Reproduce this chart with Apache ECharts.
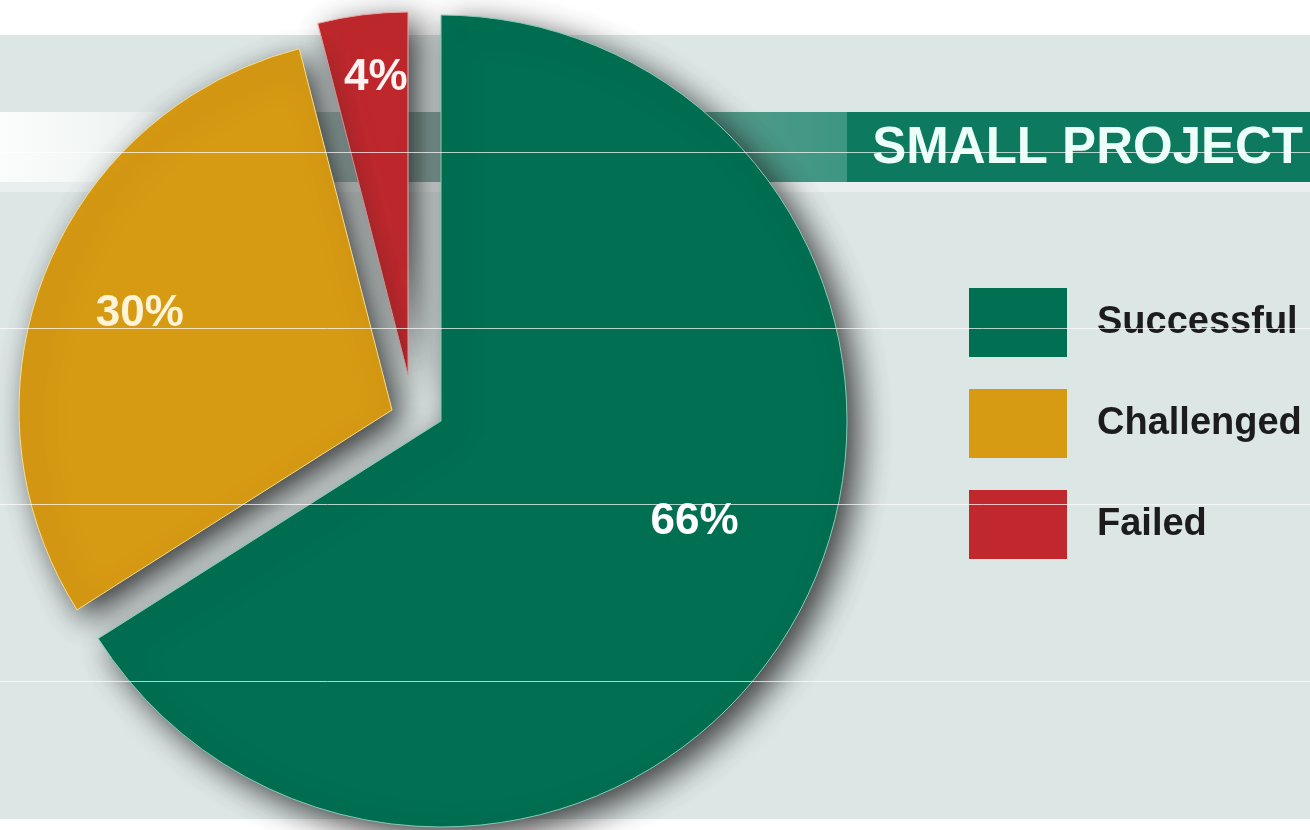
<!DOCTYPE html>
<html>
<head>
<meta charset="utf-8">
<title>Small Project</title>
<script src="https://cdn.jsdelivr.net/npm/echarts@6/dist/echarts.min.js"></script>
<style>
  html, body { margin: 0; padding: 0; background: #ffffff; }
  #chart { width: 1310px; height: 830px; }
</style>
</head>
<body>
<div id="chart"></div>
<script>
// Project outcome shares (percent)
const categories = ['Successful', 'Challenged', 'Failed'];
const shares = [66, 30, 4];
const sliceColors = ['#016f52', '#d79a13', '#c0282d'];
const edgeColors = ['#86cdb9', '#f7dd8e', '#f0a6a3'];
const labelColors = ['#ffffff', '#fff4d8', '#fff2f0'];
const bannerTitle = 'SMALL PROJECT';

// Each slice is drawn by its own pie series so the two smaller slices can be
// pulled out and shrunk independently of the large one.
const sliceLayout = [
  { center: [441, 421], radius: 406, labelShift: [73, 2] },
  { center: [392, 410], radius: 373, labelShift: [-76, -26] },
  { center: [408, 375], radius: 363, labelShift: [-9, -114] }
];

const labelFont = { fontFamily: 'Liberation Sans, Arial, sans-serif', fontWeight: 'bold', fontSize: 44 };

function sliceSeries(k) {
  const lay = sliceLayout[k];
  return {
    type: 'pie',
    center: lay.center,
    radius: lay.radius,
    startAngle: 90,
    clockwise: true,
    silent: true,
    avoidLabelOverlap: false,
    labelLine: { show: false },
    labelLayout: { dx: lay.labelShift[0], dy: lay.labelShift[1] },
    emphasis: { disabled: true },
    data: shares.map(function (v, i) {
      if (i === k) {
        return {
          name: categories[i],
          value: v,
          itemStyle: {
            color: sliceColors[i],
            borderColor: edgeColors[i],
            borderWidth: 1,
            shadowBlur: 32,
            shadowOffsetX: 11,
            shadowOffsetY: 10,
            shadowColor: 'rgba(30,30,30,0.85)'
          },
          label: Object.assign({
            show: true,
            position: 'inside',
            formatter: '{c}%',
            color: labelColors[i]
          }, labelFont)
        };
      }
      return {
        name: '_gap' + k + '_' + i,
        value: v,
        itemStyle: { color: 'rgba(0,0,0,0)', borderWidth: 0, shadowBlur: 0, shadowColor: 'rgba(0,0,0,0)' },
        label: { show: false }
      };
    })
  };
}

const chart = echarts.init(document.getElementById('chart'), null, { renderer: 'canvas' });

const ruleYs = [152, 328, 504, 681];

chart.setOption({
  backgroundColor: '#ffffff',
  animation: false,
  graphic: [
    { type: 'rect', z: 0, silent: true, shape: { x: 0, y: 35, width: 1310, height: 784 }, style: { fill: '#dce6e5' } },
    {
      type: 'rect', z: 0, silent: true,
      shape: { x: 0, y: 112, width: 850, height: 70 },
      style: {
        fill: new echarts.graphic.LinearGradient(0, 0, 1, 0, [
          { offset: 0, color: '#fbfdfc' },
          { offset: 0.15, color: '#eef3f2' },
          { offset: 0.5, color: '#86a6a0' },
          { offset: 1, color: '#3c9682' }
        ])
      }
    },
    { type: 'rect', z: 0, silent: true, shape: { x: 847, y: 112, width: 463, height: 70 }, style: { fill: '#0d7a5f' } },
    { type: 'rect', z: 0, silent: true, shape: { x: 0, y: 182, width: 1310, height: 10 }, style: { fill: 'rgba(255,255,255,0.35)' } },
    {
      type: 'text', z: 5, silent: true,
      x: 1303, y: 149,
      style: {
        text: bannerTitle,
        fill: '#ecfff8',
        font: 'bold 51px "Liberation Sans", Arial, sans-serif',
        textAlign: 'right',
        textVerticalAlign: 'middle'
      }
    }
  ].concat(ruleYs.map(function (y) {
    return {
      type: 'line', z: 100, silent: true,
      shape: { x1: 0, y1: y + 0.5, x2: 1310, y2: y + 0.5 },
      style: { stroke: 'rgba(255,255,255,0.7)', lineWidth: 1 }
    };
  })),
  legend: {
    orient: 'vertical',
    left: 969,
    top: 288,
    padding: 0,
    itemWidth: 98,
    itemHeight: 69,
    itemGap: 32,
    icon: 'rect',
    selectedMode: false,
    data: categories.map(function (c, i) {
      return { name: c, itemStyle: { color: sliceColors[i], borderWidth: 0, shadowBlur: 0, shadowColor: 'rgba(0,0,0,0)' } };
    }),
    textStyle: {
      fontFamily: '"Liberation Sans", Arial, sans-serif',
      fontWeight: 'bold',
      fontSize: 38,
      color: '#1c1c1c',
      padding: [0, 0, 0, 25]
    }
  },
  series: [sliceSeries(2), sliceSeries(1), sliceSeries(0)]
});
</script>
</body>
</html>
